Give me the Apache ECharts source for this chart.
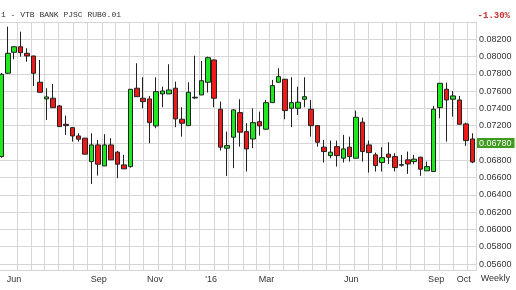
<!DOCTYPE html>
<html><head><meta charset="utf-8">
<script src="https://cdn.jsdelivr.net/npm/echarts@6/dist/echarts.min.js"></script>
<style>html,body{margin:0;padding:0;background:#fff}#c{width:516px;height:290px}</style>
</head><body><div id="c"></div><script>
const weeks = [
'2015-05-15','2015-05-22','2015-05-29','2015-06-05','2015-06-12','2015-06-19','2015-06-26','2015-07-03','2015-07-10','2015-07-17',
'2015-07-24','2015-07-31','2015-08-07','2015-08-14','2015-08-21','2015-08-28','2015-09-04','2015-09-11','2015-09-18','2015-09-25',
'2015-10-02','2015-10-09','2015-10-16','2015-10-23','2015-10-30','2015-11-06','2015-11-13','2015-11-20','2015-11-27','2015-12-04',
'2015-12-11','2015-12-18','2015-12-25','2016-01-01','2016-01-08','2016-01-15','2016-01-22','2016-01-29','2016-02-05','2016-02-12',
'2016-02-19','2016-02-26','2016-03-04','2016-03-11','2016-03-18','2016-03-25','2016-04-01','2016-04-08','2016-04-15','2016-04-22',
'2016-04-29','2016-05-06','2016-05-13','2016-05-20','2016-05-27','2016-06-03','2016-06-10','2016-06-17','2016-06-24','2016-07-01',
'2016-07-08','2016-07-15','2016-07-22','2016-07-29','2016-08-05','2016-08-12','2016-08-19','2016-08-26','2016-09-02','2016-09-09',
'2016-09-16','2016-09-23','2016-09-30','2016-10-07'];
const opens = [
0.06843,0.07807,0.08050,0.08114,0.08038,0.08007,0.07703,0.07510,0.07518,0.07429,
0.07217,0.07178,0.07082,0.07056,0.06785,0.06978,0.06735,0.06978,0.06894,0.06747,
0.06727,0.07634,0.07518,0.07510,0.07198,0.07568,0.07568,0.07634,0.07275,0.07201,
0.07530,0.07556,0.07703,0.07961,0.07391,0.06940,0.07067,0.07352,0.07132,0.07047,
0.07247,0.07160,0.07467,0.07703,0.07738,0.07402,0.07402,0.07506,0.07391,0.07201,
0.06952,0.06854,0.06958,0.06824,0.06952,0.06824,0.07241,0.06978,0.06863,0.06774,
0.06871,0.06843,0.06750,0.06805,0.06785,0.06836,0.06678,0.06670,0.07409,0.07622,
0.07506,0.07498,0.07221,0.07047];
const closes = [
0.07795,0.08038,0.08114,0.08045,0.08007,0.07807,0.07587,0.07533,0.07409,0.07190,
0.07201,0.07082,0.07044,0.06871,0.06978,0.06755,0.06978,0.06805,0.06755,0.06701,
0.07622,0.07536,0.07479,0.07236,0.07594,0.07602,0.07614,0.07279,0.07229,0.07587,
0.07521,0.07721,0.07987,0.07518,0.06952,0.06970,0.07383,0.07125,0.06932,0.07236,
0.07198,0.07467,0.07664,0.07768,0.07375,0.07467,0.07472,0.07536,0.07201,0.07009,
0.06901,0.06894,0.06854,0.06932,0.06843,0.07298,0.06901,0.06889,0.06739,0.06831,
0.06836,0.06716,0.06743,0.06758,0.06813,0.06697,0.06727,0.07391,0.07691,0.07498,
0.07545,0.07217,0.07028,0.06780];
const lows = [
0.06830,0.07800,0.07969,0.07999,0.07941,0.07660,0.07587,0.07267,0.07409,0.07190,
0.07094,0.07016,0.07016,0.06871,0.06527,0.06623,0.06735,0.06805,0.06593,0.06701,
0.06716,0.07536,0.07402,0.06998,0.07171,0.07414,0.07568,0.07183,0.07074,0.07201,
0.07510,0.07556,0.07583,0.07414,0.06912,0.06620,0.06709,0.06958,0.06670,0.06940,
0.07086,0.07152,0.07467,0.07700,0.07275,0.07183,0.07325,0.07414,0.07074,0.06958,
0.06774,0.06824,0.06727,0.06774,0.06785,0.06824,0.06785,0.06658,0.06670,0.06670,
0.06758,0.06670,0.06727,0.06643,0.06755,0.06620,0.06678,0.06670,0.07287,0.07016,
0.07305,0.07217,0.06967,0.06767];
const highs = [
0.07810,0.08346,0.08120,0.08288,0.08096,0.08010,0.07961,0.07634,0.07683,0.07440,
0.07317,0.07185,0.07113,0.07060,0.07113,0.07036,0.07102,0.07056,0.06909,0.06863,
0.07622,0.07923,0.07761,0.07545,0.07761,0.07652,0.07911,0.07710,0.07414,0.07703,
0.08010,0.07949,0.07999,0.07965,0.07479,0.07132,0.07390,0.07506,0.07229,0.07402,
0.07363,0.07498,0.07730,0.07865,0.07740,0.07761,0.07652,0.07761,0.07498,0.07205,
0.07036,0.07028,0.07028,0.07094,0.07074,0.07375,0.07294,0.07028,0.06889,0.06952,
0.07009,0.06882,0.06863,0.06901,0.06863,0.06840,0.06785,0.07429,0.07691,0.07698,
0.07602,0.07545,0.07236,0.07113];
const priceLabels = [0.056,0.058,0.060,0.062,0.064,0.066,0.068,0.070,0.072,0.074,0.076,0.078,0.080,0.082];
const priceGrid = [0.056,0.058,0.060,0.062,0.064,0.066,0.068,0.070,0.072,0.074,0.076,0.078,0.080,0.082,0.084];
const monthDates = ['2015-06-01','2015-09-01','2015-11-01','2016-01-01','2016-03-01','2016-06-01','2016-09-01','2016-10-01'];
const monthText = ['Jun','Sep','Nov',"'16",'Mar','Jun','Sep','Oct'];
const title = '1 - VTB BANK PJSC RUB0.01';
const change = '-1.30%';
const period = 'Weekly';

const ms = s => +new Date(s.length === 10 ? s + 'T00:00:00Z' : s);
const gridDates = [];
for (let y = 2015, m = 5; y < 2016 || (y === 2016 && m <= 9); m++) {
  if (m > 11) { m = 0; y++; }
  gridDates.push(Date.UTC(y, m, 1));
  if (!(y === 2016 && m === 9)) gridDates.push(Date.UTC(y, m, 16));
}
const monthMs = monthDates.map(ms);
const data = weeks.map((d, i) => [ms(d), opens[i], closes[i], lows[i], highs[i]]);
const last = closes[closes.length - 1];
const GRID = '#d6d6d6';
const FONT = '"Liberation Sans", Arial, sans-serif';

const chart = echarts.init(document.getElementById('c'), null, {renderer: 'canvas'});
chart.setOption({
  animation: false,
  grid: {left: 0, right: 40, top: 22, bottom: 20, containLabel: false},
  xAxis: {
    type: 'value',
    min: ms('2015-05-13T14:10:00Z'),
    max: ms('2016-10-11T00:00:00Z'),
    axisLine: {show: true, lineStyle: {color: GRID}},
    axisTick: {show: false, customValues: gridDates},
    axisLabel: {
      customValues: monthMs,
      formatter: v => { const k = monthMs.indexOf(+v); return k >= 0 ? monthText[k] : ''; },
      fontSize: 9, color: '#333', margin: 5, fontFamily: FONT, hideOverlap: false,
      padding: [0, 6, 0, 0]
    },
    splitLine: {show: true, lineStyle: {color: GRID, width: 1}}
  },
  yAxis: {
    type: 'value',
    position: 'right',
    min: 0.05531, max: 0.084,
    axisLine: {show: true, lineStyle: {color: GRID}},
    axisTick: {show: false, customValues: priceGrid},
    axisLabel: {customValues: priceLabels, formatter: v => (+v).toFixed(5), fontSize: 9, color: '#333', margin: 3, fontFamily: FONT},
    splitLine: {show: true, lineStyle: {color: GRID, width: 1}}
  },
  series: [{
    type: 'candlestick',
    data: data,
    encode: {x: 0, y: [1, 2, 3, 4]},
    barWidth: 5,
    itemStyle: {color: '#1fe81f', color0: '#ee1a1a', borderColor: '#222', borderColor0: '#222', borderColorDoji: '#222', borderWidth: 1},
    markLine: {
      silent: true, symbol: ['none', 'none'], animation: false,
      lineStyle: {color: 'rgba(0,0,0,0)', width: 1, type: 'solid'},
      data: [{yAxis: last}],
      label: {show: true, position: 'end', distance: 1, formatter: () => last.toFixed(5), opacity: 1,
        color: '#ffffff', backgroundColor: '#3f9b20', padding: [1, 3, 0, 2], fontSize: 9, fontFamily: FONT}
    }
  }],
  graphic: [
    {type: 'text', left: 1, top: 11, style: {text: title, font: '8px "Liberation Mono", "DejaVu Sans Mono", monospace', fill: '#333'}},
    {type: 'text', right: 6, top: 11, style: {text: change, font: 'bold 9px "Liberation Mono", "DejaVu Sans Mono", monospace', fill: '#c83030'}},
    {type: 'text', right: 6, top: 274, style: {text: period, font: '9px ' + FONT, fill: '#333'}}
  ]
});
</script></body></html>
